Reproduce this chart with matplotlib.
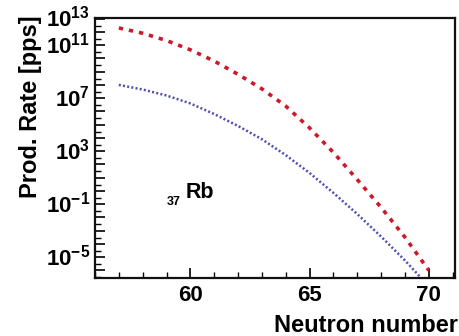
import numpy as np
import matplotlib
matplotlib.use("Agg")
import matplotlib.pyplot as plt
from matplotlib.ticker import FixedLocator, NullFormatter

plt.rcParams['font.family'] = ['Liberation Sans', 'DejaVu Sans']
plt.rcParams['font.weight'] = 'bold'
plt.rcParams['mathtext.fontset'] = 'custom'
plt.rcParams['mathtext.rm'] = 'Liberation Sans:bold'
plt.rcParams['mathtext.bf'] = 'Liberation Sans:bold'
plt.rcParams['mathtext.it'] = 'Liberation Sans:bold'
plt.rcParams['axes.unicode_minus'] = False

# Neutron number and log10 of production rate (pps) for the two Rb curves
neutron_number = [57, 58, 59, 60, 61, 62, 63, 64, 65, 66, 67, 68, 69, 70]
log_rate_upper = [12.3, 11.9, 11.35, 10.65, 9.8, 8.8, 7.7, 6.4, 4.75, 2.9, 0.85, -1.25, -3.5, -6.0]
log_rate_lower = [8.0, 7.65, 7.2, 6.6, 5.8, 4.9, 3.9, 2.7, 1.35, -0.15, -1.75, -3.45, -5.25, -7.2]

ytick_exponents = [13, 11, 7, 3, -1, -5]
xtick_major = [60, 65, 70]

fig = plt.figure(figsize=(4.6, 3.36), dpi=100)
ax = fig.add_axes([0.2065, 0.1726, 0.7826, 0.7738])

n = np.array(neutron_number)
ax.plot(n, 10.0 ** np.array(log_rate_upper), color='#cc1a2a', lw=2.6,
        linestyle=(0, (1.2, 1.65)), dash_capstyle='butt')
ax.plot(n, 10.0 ** np.array(log_rate_lower), color='#4f4fb0', lw=1.8,
        linestyle=(0, (0.8, 0.9)), dash_capstyle='butt')

ax.set_yscale('log')
ax.set_xlim(56, 71.1)
ax.set_ylim(10 ** -6.58, 10 ** 13.05)

# y ticks: major every decade, minor at 3x10^k, labels only at selected decades
ax.yaxis.set_major_locator(FixedLocator([10.0 ** k for k in range(-6, 14)]))
ax.yaxis.set_minor_locator(FixedLocator([3 * 10.0 ** k for k in range(-7, 13)]))
ax.yaxis.set_major_formatter(NullFormatter())
ax.yaxis.set_minor_formatter(NullFormatter())
for e in ytick_exponents:
    ax.text(-0.014, 10.0 ** e, r'$10^{%d}$' % e, transform=ax.get_yaxis_transform(),
            ha='right', va='center', fontsize=16)

ax.xaxis.set_major_locator(FixedLocator(xtick_major))
ax.xaxis.set_minor_locator(FixedLocator(list(range(56, 72))))
ax.set_xticklabels([str(v) for v in xtick_major])

ax.tick_params(axis='both', which='major', direction='in', length=7, width=1.2,
               labelsize=16, pad=5, top=False, right=False)
ax.tick_params(axis='both', which='minor', direction='in', length=4, width=1.0,
               top=False, right=False)

for s in ax.spines.values():
    s.set_linewidth(1.6)
    s.set_color('#111111')

ax.set_xlabel('Neutron number', fontsize=17, fontweight='bold', loc='right')
ax.xaxis.set_label_coords(1.008, -0.14)
ax.set_ylabel('Prod. Rate [pps]', fontsize=17, fontweight='bold', loc='top')
ax.yaxis.set_label_coords(-0.147, 1.012)

# nucleus label
ax.text(59.8, 10 ** -0.55, 'Rb', fontsize=15.5, fontweight='bold', ha='left', va='baseline')
ax.text(59.02, 10 ** -1.08, '37', fontsize=9, fontweight='bold', ha='left', va='baseline')

fig.savefig('out.png', dpi=100)
